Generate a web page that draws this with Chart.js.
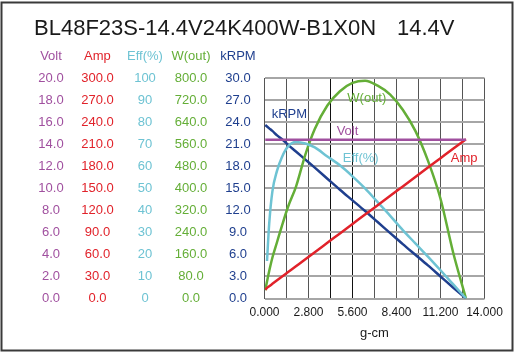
<!DOCTYPE html>
<html>
<head>
<meta charset="utf-8">
<script src="https://cdn.jsdelivr.net/npm/chart.js@4.4.1/dist/chart.umd.min.js"></script>
<style>
html,body{margin:0;padding:0;background:#fff;}
#wrap{width:516px;height:355px;position:relative;}
canvas{display:block;}
</style>
</head>
<body>
<div id="wrap"><canvas id="c" width="516" height="355"></canvas></div>
<script>
// ---- data ----
const titleMain = 'BL48F23S-14.4V24K400W-B1X0N';
const titleVolt = '14.4V';
const xTitle = 'g-cm';
const torque = [0.05, 0.16, 0.3, 0.5, 0.8, 1.1, 1.5, 2.0, 2.6, 3.2, 4.0, 4.8, 5.6, 6.4, 7.2, 8.0, 8.8, 9.6, 10.4, 11.2, 12.0, 12.82];
const volt   = [14.4,14.4,14.4,14.4,14.4,14.4,14.4,14.4,14.4,14.4,14.4,14.4,14.4,14.4,14.4,14.4,14.4,14.4,14.4,14.4,14.4,14.4];
const amp    = [12.0, 14.5, 16.7, 19.9, 24.7, 29.5, 35.9, 43.9, 53.5, 63.0, 75.8, 88.6, 101.4, 114.2, 127.0, 139.7, 152.5, 165.3, 178.1, 190.9, 203.7, 216.8];
const eff    = [null, 17, 34, 48.5, 58, 64, 69, 71, 70.3, 68.5, 64.4, 60.4, 55.4, 49.9, 43.7, 37.5, 31, 25, 19, 12.8, 6.5, 0];
const wout   = [30, 62, 100, 148, 205, 262, 333, 405, 522, 615, 700, 752, 782, 790, 772, 740, 685, 608, 500, 362, 168, 0];
const krpm   = [23.6, 23.4, 23.15, 22.8, 22.2, 21.7, 20.9, 20.0, 18.9, 17.8, 16.3, 14.8, 13.35, 11.9, 10.4, 8.9, 7.4, 5.95, 4.5, 3.0, 1.5, 0];
const xTicks = [0, 1.4, 2.8, 4.2, 5.6, 7.0, 8.4, 9.8, 11.2, 12.6, 14.0];
const xTickLabels = ['0.000', '', '2.800', '', '5.600', '', '8.400', '', '11.200', '', '14.000'];
const seriesNames = ['Volt', 'Amp', 'Eff(%)', 'W(out)', 'kRPM'];
const axisMax  = [20, 300, 100, 800, 30];
const axisStep = [2, 30, 10, 80, 3];
const axisDec  = [1, 1, 0, 1, 1];
// in-plot series labels, in data units (x = torque, y = Eff(%) axis)
const curveLabels = [
  {text: 'W(out)', x: 5.27, y: 90.8, s: 3},
  {text: 'kRPM',   x: 0.46, y: 83.5, s: 4},
  {text: 'Volt',   x: 4.59, y: 75.9, s: 0},
  {text: 'Eff(%)', x: 4.98, y: 63.5, s: 2},
  {text: 'Amp',    x: 11.85, y: 63.5, s: 1}
];

// ---- styles ----
const FONT = '"Liberation Sans", Arial, Helvetica, sans-serif';
const colors = ['#A0509F', '#E1222A', '#6EC3D3', '#64AE37', '#1F3F8E'];
const axisIds = ['yV', 'yA', 'yE', 'yW', 'yK'];
const tickPad = [12.85, 9.75, 14.65, 10.25, 13.85];
const seriesData = [volt, amp, eff, wout, krpm];

const scales = {
  x: {
    type: 'linear', min: 0, max: 14,
    afterBuildTicks(s) { s.ticks = xTicks.map(v => ({value: v})); },
    ticks: {
      autoSkip: false, maxRotation: 0, padding: 6.5, color: '#1a1a1a',
      font: {family: FONT, size: 12},
      callback: (v, i) => xTickLabels[i]
    },
    grid: {
      drawTicks: false, lineWidth: 1,
      color: c => (c.tick && (Math.abs(c.tick.value - 4.2) < 1e-6 || Math.abs(c.tick.value - 5.6) < 1e-6)) ? '#111' : '#555'
    },
    border: {display: false},
    title: {display: true, text: xTitle, color: '#1a1a1a', font: {family: FONT, size: 13}, padding: {top: 0, bottom: 0}}
  }
};
axisIds.forEach((id, k) => {
  scales[id] = {
    type: 'linear', position: 'left', min: 0, max: axisMax[k], weight: 5 - k,
    ticks: {
      stepSize: axisStep[k], color: colors[k], padding: tickPad[k], crossAlign: 'center',
      font: {family: FONT, size: 13},
      callback: v => Number(v).toFixed(axisDec[k])
    },
    grid: {display: id === 'yK', drawTicks: false, color: '#a6a6a6', lineWidth: 2},
    border: {display: false},
    afterFit(s) { s.width = 47; }
  };
});

const datasets = seriesData.map((arr, k) => ({
  label: seriesNames[k],
  data: torque.map((t, i) => ({x: t, y: arr[i]})),
  yAxisID: axisIds[k],
  borderColor: colors[k],
  backgroundColor: colors[k],
  borderWidth: 2.5,
  pointRadius: 0,
  fill: false,
  cubicInterpolationMode: 'monotone'
}));

const deco = {
  id: 'deco',
  beforeDraw(chart) {
    const c = chart.ctx; c.save();
    c.fillStyle = '#fff'; c.fillRect(0, 0, chart.width, chart.height);
    c.restore();
  },
  afterDatasetsDraw(chart) {
    const c = chart.ctx; c.save();
    c.font = '13px ' + FONT; c.textAlign = 'left'; c.textBaseline = 'middle';
    const xs = chart.scales.x, ys = chart.scales.yE;
    curveLabels.forEach(l => {
      c.fillStyle = colors[l.s];
      c.fillText(l.text, xs.getPixelForValue(l.x), ys.getPixelForValue(l.y));
    });
    c.restore();
  },
  afterDraw(chart) {
    const c = chart.ctx; c.save();
    c.strokeStyle = '#3a3a3a'; c.lineWidth = 2;
    c.strokeRect(1.5, 2.5, 511, 348);
    c.fillStyle = '#1a1a1a'; c.font = '22px ' + FONT;
    c.textAlign = 'left'; c.textBaseline = 'alphabetic';
    c.fillText(titleMain, 34, 35);
    c.fillText(titleVolt, 397, 35);
    c.font = '13px ' + FONT; c.textAlign = 'center'; c.textBaseline = 'middle';
    axisIds.forEach((id, k) => {
      const s = chart.scales[id];
      let w = 0;
      s.ticks.forEach(t => { w = Math.max(w, c.measureText(t.label).width); });
      const cx = s.right - s.options.ticks.padding - w / 2;
      c.fillStyle = colors[k];
      c.fillText(seriesNames[k], cx, 56);
    });
    c.restore();
  }
};

new Chart(document.getElementById('c'), {
  type: 'line',
  data: {datasets},
  options: {
    responsive: false, animation: false, devicePixelRatio: 1,
    layout: {padding: {left: 29.5, top: 78, right: 31.5, bottom: 13.5}},
    plugins: {legend: {display: false}, tooltip: {enabled: false}, title: {display: false}},
    scales
  },
  plugins: [deco]
});
</script>
</body>
</html>
